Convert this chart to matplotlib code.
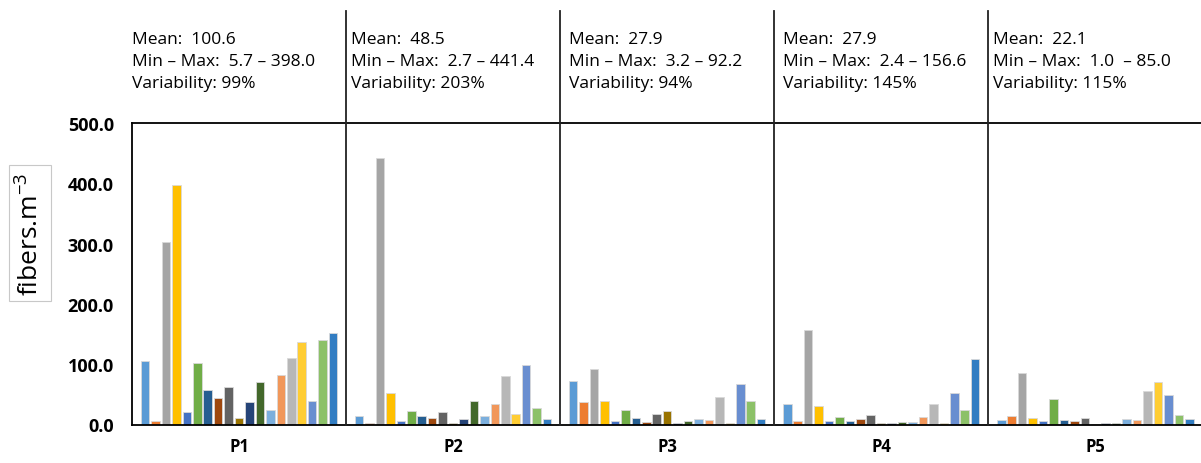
import numpy as np
import matplotlib
matplotlib.use("Agg")
import matplotlib.pyplot as plt

plt.rcParams['font.family'] = ['Open Sans', 'DejaVu Sans']

groups = ['P1', 'P2', 'P3', 'P4', 'P5']

# one list per group, 19 sample series each
p1 = [105.0, 5.7, 302.5, 398.0, 20.0, 102.3, 58.0, 44.2, 61.4, 10.0,
      36.5, 70.8, 23.8, 82.4, 109.5, 137.2, 38.7, 140.5, 151.5]
p2 = [13.3, 2.7, 441.4, 52.0, 5.5, 22.0, 13.3, 10.5, 20.5, 3.0,
      8.3, 38.7, 14.4, 34.8, 80.2, 17.7, 97.9, 27.1, 8.8]
p3 = [71.9, 37.0, 92.2, 38.2, 5.5, 23.8, 11.6, 4.4, 17.1, 23.2,
      3.2, 6.1, 8.3, 7.2, 45.4, 3.3, 66.9, 38.7, 8.8]
p4 = [33.2, 5.0, 156.6, 30.4, 5.5, 12.2, 5.5, 8.3, 15.5, 2.4,
      2.5, 4.4, 3.9, 12.2, 33.7, 2.4, 52.0, 23.8, 109.0]
p5 = [7.2, 13.3, 85.0, 10.5, 5.0, 41.5, 7.2, 5.5, 10.0, 1.0,
      3.3, 2.2, 8.8, 7.2, 55.3, 70.2, 48.7, 16.0, 9.4]

stats = [
    ['Mean:  100.6', 'Min \u2013 Max:  5.7 \u2013 398.0', 'Variability: 99%'],
    ['Mean:  48.5', 'Min \u2013 Max:  2.7 \u2013 441.4', 'Variability: 203%'],
    ['Mean:  27.9', 'Min \u2013 Max:  3.2 \u2013 92.2', 'Variability: 94%'],
    ['Mean:  27.9', 'Min \u2013 Max:  2.4 \u2013 156.6', 'Variability: 145%'],
    ['Mean:  22.1', 'Min \u2013 Max:  1.0  \u2013 85.0', 'Variability: 115%'],
]

colors = ['#5B9BD5', '#ED7D31', '#A5A5A5', '#FFC000', '#4472C4', '#70AD47',
          '#255E91', '#9E480E', '#636363', '#997300', '#264478', '#43682B',
          '#7CAFDD', '#F1975A', '#B7B7B7', '#FFCD33', '#698ED0', '#8CC168',
          '#327DC2']

data = np.array([p1, p2, p3, p4, p5])
n_series = data.shape[1]

W, H = 1201, 464
fig = plt.figure(figsize=(W / 100, H / 100), dpi=100)
ax = fig.add_axes([132 / W, 1 - 425.5 / H, 1 - 132 / W + 0.01, 301.5 / H])

slot = 0.927 / n_series
x = np.arange(len(groups))
for i in range(n_series):
    offs = (i - (n_series - 1) / 2) * slot
    ax.bar(x + offs, data[:, i], width=slot * 0.82, color=colors[i],
           edgecolor='#d9d9d9', linewidth=0.6, zorder=2)

ax.set_xlim(-0.5, 4.55)
ax.set_ylim(0, 500)
yt = np.arange(0, 501, 100)
ax.set_yticks(yt)
ax.set_yticklabels(['%.1f' % v for v in yt], fontsize=13, fontweight='bold')
ax.set_xticks(x)
ax.set_xticklabels(groups, fontsize=12, fontweight='bold')
ax.tick_params(length=0)
ax.tick_params(axis='x', pad=9)
ax.tick_params(axis='y', pad=13)
for s in ['left', 'bottom', 'top']:
    ax.spines[s].set_color('black')
    ax.spines[s].set_linewidth(1.3)
ax.spines['right'].set_visible(False)

# separators between groups, running up into the stats header
for b in [0.5, 1.5, 2.5, 3.5]:
    ax.plot([b, b], [0, 686], color='#222222', lw=1.3, clip_on=False, zorder=3)

# stats header, left x in pixels
text_px = [132, 351, 569, 783, 993]
for xp, lines in zip(text_px, stats):
    for j, line in enumerate(lines):
        fig.text(xp / W, 1 - (40 + 22 * j) / H, line, fontsize=12.5,
                 va='center', ha='left')

fig.text(30 / W, 1 - 234 / H, 'fibers.m$^{\\mathregular{-3}}$', rotation=90,
         fontsize=19, va='center', ha='center',
         bbox=dict(boxstyle='square,pad=0.25', facecolor='white',
                   edgecolor='#c8c8c8', linewidth=0.8))

fig.savefig('out.png', dpi=100)
